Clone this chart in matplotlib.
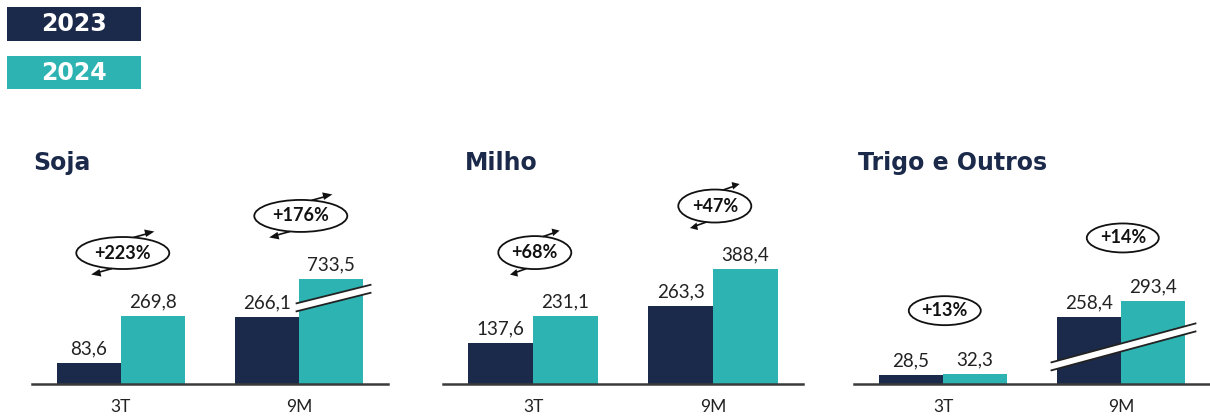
import matplotlib
matplotlib.use('Agg')
import matplotlib.pyplot as plt
from matplotlib.patches import Ellipse, Polygon, Rectangle
from matplotlib.transforms import ScaledTranslation

# ---------------- data ----------------
panels = ['Soja', 'Milho', 'Trigo e Outros']
periods = ['3T', '9M']
years = ['2023', '2024']

soja_2023 = [83.6, 266.1]
soja_2024 = [269.8, 733.5]
milho_2023 = [137.6, 263.3]
milho_2024 = [231.1, 388.4]
trigo_2023 = [28.5, 258.4]
trigo_2024 = [32.3, 293.4]

soja_growth = ['+223%', '+176%']
milho_growth = ['+68%', '+47%']
trigo_growth = ['+13%', '+14%']

# ---------------- style ----------------
NAVY = '#1B2A4A'
TEAL = '#2DB4B2'
LINE = '#3A3A3A'
W, H, DPI = 1210, 416, 100
VAL_FONT = 'Lato'
TITLE_FONT = 'DejaVu Sans'

fig = plt.figure(figsize=(W / DPI, H / DPI), dpi=DPI)


def frect(l, r, t, b):
    return [l / W, 1 - b / H, (r - l) / W, (b - t) / H]


# per-panel layout (pixel extents, axis maxima, axis-break display heights)
cfg = [
    dict(v23=soja_2023, v24=soja_2024, g=soja_growth, px=(32, 388), ymax=1008,
         title_x=33, ell=(93, 32), arrows=True,
         shown={(1, 1): 417},
         brk=[(1.194, 341, 37, 0.25)]),
    dict(v23=milho_2023, v24=milho_2024, g=milho_growth, px=(443, 803), ymax=858,
         title_x=465, ell=(73, 33), arrows=True, shown={}, brk=[]),
    dict(v23=trigo_2023, v24=trigo_2024, g=trigo_growth, px=(854, 1210), ymax=794,
         title_x=858, ell=(72, 29), arrows=False,
         shown={(1, 0): 209.6, (1, 1): 259.6},
         brk=[(1.014, 116, 72, 0.27)]),
]

BW = 0.36
INK = '#111111'
for name, c in zip(panels, cfg):
    ax = fig.add_axes(frect(c['px'][0], c['px'][1], 130, 384))
    ax.set_xlim(-0.5, 1.5)
    ax.set_ylim(0, c['ymax'])
    for s in ['top', 'right', 'left']:
        ax.spines[s].set_visible(False)
    ax.spines['bottom'].set_color(LINE)
    ax.spines['bottom'].set_linewidth(1.8)
    ax.set_yticks([])
    ax.set_xticks(range(len(periods)))
    ax.set_xticklabels(periods, fontfamily=VAL_FONT, fontsize=12.5, color='#222222')
    ax.tick_params(axis='x', length=0, pad=11)
    ax.patch.set_alpha(0)

    tops = []
    for i in range(len(periods)):
        hs = []
        for j, (vals, col) in enumerate([(c['v23'], NAVY), (c['v24'], TEAL)]):
            v = vals[i]
            h = c['shown'].get((i, j), v)
            x = i + (j - 0.5) * BW
            ax.bar(x, h, width=BW, color=col, edgecolor='none', zorder=2)
            ax.annotate(f'{v:.1f}'.replace('.', ','), xy=(x, h), xytext=(0, 4),
                        textcoords='offset points', ha='center', va='bottom',
                        fontfamily=VAL_FONT, fontsize=13.5, color='#222222')
            hs.append(h)
        tops.append(max(hs))

    # growth ellipses
    ew, eh = c['ell'][0] / DPI, c['ell'][1] / DPI
    for i in range(len(periods)):
        tr = fig.dpi_scale_trans + ScaledTranslation(i + 0.01, tops[i], ax.transData)
        cy = 0.63
        e = Ellipse((0, cy), ew, eh, facecolor='white', edgecolor=INK,
                    lw=1.3, transform=tr, zorder=5)
        fig.add_artist(e)
        fig.text(0, cy, c['g'][i], transform=tr, ha='center', va='center',
                 fontfamily=VAL_FONT, fontweight='bold', fontsize=13,
                 color=INK, zorder=6)
        if c['arrows']:
            a, b = ew / 2, eh / 2
            # top-right tail with arrow head (pointing along the ellipse)
            fig.add_artist(plt.Line2D([0.25 * a, 0.50 * a], [cy + b - 0.002, cy + b + 0.03],
                                      transform=tr, color=INK, lw=1.2, zorder=6))
            fig.add_artist(Polygon([(0.68 * a, cy + b + 0.055), (0.46 * a, cy + b + 0.075),
                                    (0.50 * a, cy + b + 0.0)], closed=True,
                                   facecolor=INK, edgecolor='none',
                                   transform=tr, zorder=6))
            # bottom-left tail with arrow head
            fig.add_artist(plt.Line2D([-0.25 * a, -0.50 * a], [cy - b + 0.002, cy - b - 0.03],
                                      transform=tr, color=INK, lw=1.2, zorder=6))
            fig.add_artist(Polygon([(-0.68 * a, cy - b - 0.055), (-0.46 * a, cy - b - 0.075),
                                    (-0.50 * a, cy - b - 0.0)], closed=True,
                                   facecolor=INK, edgecolor='none',
                                   transform=tr, zorder=6))

    # axis-break marks
    for (bx, by, half, slope) in c['brk']:
        tr = fig.dpi_scale_trans + ScaledTranslation(bx, by, ax.transData)
        hl = half / DPI
        t = 0.04
        dy = slope * hl
        band = Polygon([(-hl, -dy + t), (hl, dy + t), (hl, dy - t), (-hl, -dy - t)],
                       closed=True, facecolor='white', edgecolor='none',
                       transform=tr, zorder=4)
        fig.add_artist(band)
        for off in (t, -t):
            fig.add_artist(plt.Line2D([-hl, hl], [-dy + off, dy + off], transform=tr,
                                      color='#222222', lw=1.3, zorder=4))

    fig.text(c['title_x'] / W, 1 - 170 / H, name, ha='left', va='baseline',
             fontfamily=TITLE_FONT, fontweight='bold', fontsize=17, color=NAVY)

# legend boxes
for k, (yr, col, (t, b)) in enumerate(zip(years, [NAVY, TEAL], [(7, 41), (56, 89)])):
    fig.add_artist(Rectangle((7 / W, 1 - b / H), 134 / W, (b - t) / H,
                             transform=fig.transFigure, facecolor=col, edgecolor='none'))
    fig.text(74 / W, 1 - (t + b) / 2 / H, yr, ha='center', va='center',
             fontfamily=TITLE_FONT, fontweight='bold', fontsize=17, color='white')

fig.savefig('out.png', dpi=DPI, facecolor='white')
